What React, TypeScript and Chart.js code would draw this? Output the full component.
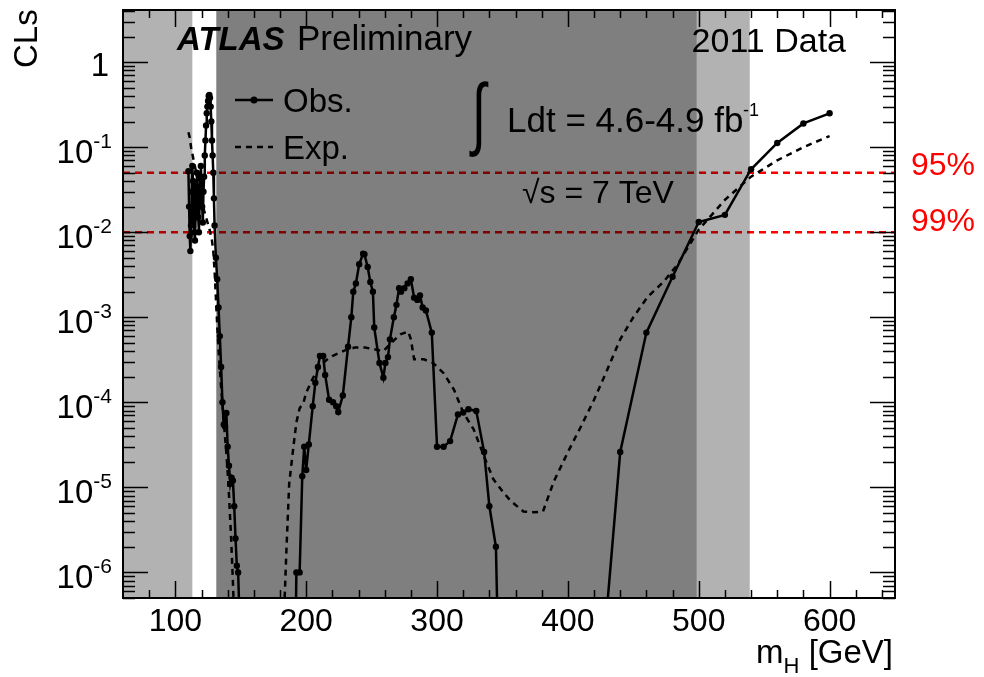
import React, { useEffect, useRef } from "react";
import { Chart, registerables } from "chart.js";

Chart.register(...registerables);

// ---- data ----
const obsMass = [
  110, 110.5, 111, 111.5, 112, 112.5, 113, 113.5, 114, 114.5, 115, 115.5, 116, 116.5, 117, 117.5,
  118, 118.5, 119, 119.5, 120, 120.5, 121, 121.5, 122, 122.5, 123, 123.5, 124, 124.5, 125, 125.5,
  126, 126.5, 127, 127.5, 128, 128.5, 129, 129.5, 130, 131, 132, 133, 134, 135, 136, 137, 138, 139,
  140, 141, 142, 143, 144, 145, 146, 147, 148, 149, 150, 190, 192.5, 195, 197, 198.5, 200, 202, 205,
  207, 209, 210.5, 213, 214.5, 217.5, 220.5, 223, 224.5, 228, 232, 234.5, 236, 238, 240.5, 243.5,
  244.5, 247, 249, 251, 252, 256, 259, 260.5, 262.5, 264, 267, 269, 271, 272.5, 275, 277.5, 280,
  282.5, 285, 287, 289, 291.5, 296, 300, 305, 310, 316, 320, 324, 330, 336, 340, 345, 350, 420, 440,
  460, 480, 500, 520, 540, 560, 580, 600,
];
const obsCLs = [
  0.052, 0.02, 0.009, 0.006, 0.012, 0.03, 0.06, 0.04, 0.02, 0.01, 0.008, 0.015, 0.035, 0.05, 0.03, 0.015,
  0.01, 0.02, 0.045, 0.06, 0.04, 0.02, 0.013, 0.03, 0.045, 0.08, 0.12, 0.18, 0.25, 0.3, 0.35, 0.4,
  0.41, 0.38, 0.3, 0.2, 0.12, 0.08, 0.05, 0.025, 0.012, 0.005, 0.0028, 0.0013, 6e-4, 2.6e-4, 1e-4, 5.5e-5, 5.2e-5, 7.5e-5,
  3e-5, 1.8e-5, 1.1e-5, 1.3e-5, 1.2e-5, 6e-6, 2.5e-6, 1.2e-6, 1e-6, 3e-7, 1e-8, 1e-9, 1e-6, 1e-6, 1.35e-5, 3e-5, 1.6e-5, 3.2e-5, 9e-5,
  1.7e-4, 2.6e-4, 3.5e-4, 3.5e-4, 2.1e-4, 1.07e-4, 1e-4, 9e-5, 7.7e-5, 1.2e-4, 4.5e-4, 1e-3, 2e-3, 2.5e-3, 4.2e-3, 5.6e-3,
  5.5e-3, 3.9e-3, 2.6e-3, 2e-3, 7.6e-4, 2.9e-4, 1.95e-4, 2.9e-4, 3.4e-4, 5.5e-4, 1e-3, 1.4e-3, 2.2e-3, 2e-3, 2.2e-3, 2.5e-3, 2.8e-3,
  1.7e-3, 1.6e-3, 1.8e-3, 1.3e-3, 1.2e-3, 6.6e-4, 3e-5, 3e-5, 3.5e-5, 7.2e-5, 7.6e-5, 8.3e-5, 7.9e-5, 2.6e-5, 6e-6, 2e-6, 5e-10, 6e-9, 2.6e-5,
  6.6e-4, 3e-3, 0.0132, 0.016, 0.055, 0.112, 0.19, 0.25,
];

const expMass = [
  110, 111, 112, 114, 116, 118, 120, 122, 124, 126, 128, 129, 130, 131, 132, 133, 135, 137, 139, 140.5,
  142.5, 144, 146, 150, 180, 183, 185, 187, 190, 192.5, 195, 198, 200, 205, 210, 215, 220, 225, 230, 237,
  245, 252, 259, 265, 272, 278, 280, 282.5, 290, 297, 305, 313, 320, 328, 336, 343, 350, 356, 366, 374,
  381, 389, 400, 410, 420, 430, 440, 450, 461, 473, 484, 490, 500, 520, 540, 560, 580, 600,
];
const expCLs = [
  0.15, 0.13, 0.1, 0.07, 0.05, 0.035, 0.025, 0.018, 0.014, 0.011, 0.008, 0.006, 0.0035, 0.0017, 8e-4, 4.2e-4, 1.5e-4, 6e-5, 2.5e-5, 1.15e-5,
  2.8e-6, 7.8e-7, 1e-7, 1e-9, 1e-9, 3e-7, 2e-6, 1.1e-5, 2.8e-5, 5.8e-5, 8.5e-5, 1e-4, 1.3e-4, 1.9e-4, 2.6e-4, 3.1e-4, 3.5e-4, 3.8e-4, 4.1e-4, 4.4e-4,
  4.4e-4, 4.2e-4, 4e-4, 5e-4, 6.3e-4, 6.8e-4, 5.5e-4, 3.2e-4, 3.2e-4, 2.9e-4, 2.2e-4, 1.4e-4, 7.6e-5, 4.8e-5, 2.3e-5, 1.25e-5, 9e-6, 7e-6, 5.2e-6, 5.1e-6,
  5.2e-6, 1.15e-5, 2.6e-5, 5.2e-5, 1.07e-4, 2.4e-4, 5.5e-4, 1e-3, 1.74e-3, 2.6e-3, 4.2e-3, 6e-3, 0.0107, 0.024, 0.045, 0.07, 0.1, 0.135,
];

// excluded mass ranges (GeV): [start, end]
const lightBandStart = [60, 498.5];
const lightBandEnd = [113, 539];
const darkBandStart = [131.3];
const darkBandEnd = [498.5];

const limitLevels = [0.05, 0.01];
const limitLabels = ["95%", "99%"];

const xTickLabels = [100, 200, 300, 400, 500, 600];
const yTickExponents = [0, -1, -2, -3, -4, -5, -6];

const X_MIN = 60;
const X_MAX = 650;
const Y_MIN = 5e-7;
const Y_MAX = 4.1;

const FONT = "'Liberation Sans', Arial, Helvetica, sans-serif";

const overlayPlugin = {
  id: "atlasOverlay",
  beforeDatasetsDraw(chart: any) {
    const { ctx, chartArea: a, scales } = chart;
    const x = scales.x;
    const y = scales.y;
    ctx.save();
    ctx.fillStyle = "#ffffff";
    ctx.fillRect(a.left, a.top, a.right - a.left, a.bottom - a.top);
    // limit lines
    ctx.strokeStyle = "#ff0000";
    ctx.lineWidth = 2.5;
    ctx.setLineDash([7, 5]);
    limitLevels.forEach((v) => {
      const py = y.getPixelForValue(v);
      ctx.beginPath();
      ctx.moveTo(a.left, py);
      ctx.lineTo(a.right, py);
      ctx.stroke();
    });
    ctx.setLineDash([]);
    // bands (translucent)
    const drawBand = (s: number, e: number, alpha: number) => {
      const x0 = Math.max(a.left, x.getPixelForValue(s));
      const x1 = Math.min(a.right, x.getPixelForValue(e));
      ctx.fillStyle = `rgba(0,0,0,${alpha})`;
      ctx.fillRect(x0, a.top, x1 - x0, a.bottom - a.top);
    };
    lightBandStart.forEach((s, i) => drawBand(s, lightBandEnd[i], 0.3));
    darkBandStart.forEach((s, i) => drawBand(s, darkBandEnd[i], 0.5));
    ctx.restore();
  },
  afterDatasetsDraw(chart: any) {
    const { ctx, chartArea: a, scales } = chart;
    const x = scales.x;
    const y = scales.y;
    ctx.save();
    ctx.strokeStyle = "#000";
    ctx.fillStyle = "#000";
    // ticks x
    ctx.lineWidth = 1.5;
    for (let m = 80; m < X_MAX; m += 20) {
      const px = Math.round(x.getPixelForValue(m)) + 0.5;
      const len = m % 100 === 0 ? 17 : 8;
      ctx.beginPath();
      ctx.moveTo(px, a.bottom);
      ctx.lineTo(px, a.bottom - len);
      ctx.moveTo(px, a.top);
      ctx.lineTo(px, a.top + len);
      ctx.stroke();
    }
    // ticks y
    for (let e = -7; e <= 0; e++) {
      for (let k = 1; k <= 9; k++) {
        const v = k * Math.pow(10, e);
        if (v < Y_MIN || v > Y_MAX) continue;
        const py = Math.round(y.getPixelForValue(v)) + 0.5;
        const len = k === 1 ? 25 : 12;
        ctx.beginPath();
        ctx.moveTo(a.left, py);
        ctx.lineTo(a.left + len, py);
        ctx.moveTo(a.right, py);
        ctx.lineTo(a.right - len, py);
        ctx.stroke();
      }
    }
    // frame
    ctx.lineWidth = 2;
    ctx.strokeRect(a.left, a.top, a.right - a.left, a.bottom - a.top);

    // x tick labels
    ctx.font = `32px ${FONT}`;
    ctx.textAlign = "center";
    ctx.textBaseline = "alphabetic";
    xTickLabels.forEach((m) => {
      ctx.fillText(String(m), x.getPixelForValue(m), 631);
    });
    // y tick labels
    const right = 112;
    yTickExponents.forEach((e) => {
      const py = y.getPixelForValue(Math.pow(10, e));
      if (e === 0) {
        ctx.font = `33px ${FONT}`;
        ctx.textAlign = "right";
        ctx.fillText("1", right - 3, py + 14);
        return;
      }
      ctx.font = `21px ${FONT}`;
      const expText = String(e);
      const ew = ctx.measureText(expText).width;
      ctx.textAlign = "left";
      ctx.fillText(expText, right - ew, py + 1);
      ctx.font = `33px ${FONT}`;
      ctx.textAlign = "right";
      ctx.fillText("10", right - ew, py + 16);
    });

    // y title
    ctx.save();
    ctx.translate(37, 68);
    ctx.rotate(-Math.PI / 2);
    ctx.font = `33px ${FONT}`;
    ctx.textAlign = "left";
    ctx.fillText("CLs", 0, 0);
    ctx.restore();

    // x title: m_H [GeV]
    ctx.textAlign = "left";
    ctx.font = `33px ${FONT}`;
    const gev = " [GeV]";
    const wGev = ctx.measureText(gev).width;
    const wM = ctx.measureText("m").width;
    ctx.font = `22px ${FONT}`;
    const wH = ctx.measureText("H").width;
    const xs = 893 - wGev - wH - wM;
    ctx.font = `33px ${FONT}`;
    ctx.fillText("m", xs, 663);
    ctx.font = `22px ${FONT}`;
    ctx.fillText("H", xs + wM, 673);
    ctx.font = `33px ${FONT}`;
    ctx.fillText(gev, xs + wM + wH, 663);

    // ATLAS Preliminary
    ctx.font = `italic bold 33px ${FONT}`;
    ctx.fillText("ATLAS", 177, 50);
    ctx.font = `35px ${FONT}`;
    ctx.fillText("Preliminary", 297, 50);
    ctx.textAlign = "right";
    ctx.font = `34px ${FONT}`;
    ctx.fillText("2011 Data", 846, 52);

    // luminosity
    ctx.textAlign = "left";
    ctx.save();
    ctx.translate(472, 140);
    ctx.scale(0.8, 1.25);
    ctx.font = `64px ${FONT}`;
    ctx.fillText("\u222B", 0, 0);
    ctx.restore();
    ctx.font = `35px ${FONT}`;
    ctx.fillText("Ldt = 4.6-4.9 fb", 507, 132);
    ctx.font = `18px ${FONT}`;
    ctx.fillText("-1", 743, 116);
    ctx.font = `32px ${FONT}`;
    ctx.fillText("\u221As = 7 TeV", 522, 203);

    // legend
    ctx.lineWidth = 2.5;
    ctx.beginPath();
    ctx.moveTo(235, 100);
    ctx.lineTo(273, 100);
    ctx.stroke();
    ctx.beginPath();
    ctx.arc(254, 100, 3.5, 0, Math.PI * 2);
    ctx.fill();
    ctx.setLineDash([6, 5]);
    ctx.beginPath();
    ctx.moveTo(235, 147);
    ctx.lineTo(273, 147);
    ctx.stroke();
    ctx.setLineDash([]);
    ctx.font = `33px ${FONT}`;
    ctx.fillText("Obs.", 283, 112);
    ctx.fillText("Exp.", 283, 159);

    // limit labels
    ctx.fillStyle = "#ff0000";
    ctx.font = `32px ${FONT}`;
    limitLevels.forEach((v, i) => {
      const py = y.getPixelForValue(v);
      ctx.fillText(limitLabels[i], 911, py + (i === 0 ? 2 : -1));
    });
    ctx.restore();
  },
};

export default function App() {
  const canvasRef = useRef<HTMLCanvasElement | null>(null);

  useEffect(() => {
    const canvas = canvasRef.current;
    if (!canvas) return;
    const chart = new Chart(canvas, {
      type: "line",
      data: {
        datasets: [
          {
            label: "Obs.",
            data: obsMass.map((m, i) => ({ x: m, y: obsCLs[i] })),
            borderColor: "#000",
            backgroundColor: "#000",
            borderWidth: 2.5,
            pointRadius: 3.2,
            pointBorderWidth: 0,
            pointBackgroundColor: "#000",
            tension: 0,
          },
          {
            label: "Exp.",
            data: expMass.map((m, i) => ({ x: m, y: expCLs[i] })),
            borderColor: "#000",
            borderWidth: 2.5,
            borderDash: [6, 5],
            pointRadius: 0,
            tension: 0,
          },
        ],
      },
      options: {
        responsive: false,
        devicePixelRatio: 1,
        animation: false,
        events: [],
        layout: { padding: { top: 10, right: 89, left: 0, bottom: 0 } },
        plugins: { legend: { display: false }, tooltip: { enabled: false } },
        scales: {
          x: {
            type: "linear",
            min: X_MIN,
            max: X_MAX,
            ticks: { display: false },
            grid: { display: false, drawTicks: false },
            border: { display: false },
            afterFit: (s: any) => {
              s.height = 79;
            },
          },
          y: {
            type: "logarithmic",
            min: Y_MIN,
            max: Y_MAX,
            ticks: { display: false },
            grid: { display: false, drawTicks: false },
            border: { display: false },
            afterFit: (s: any) => {
              s.width = 123;
            },
          },
        },
      },
      plugins: [overlayPlugin],
    });
    return () => chart.destroy();
  }, []);

  return (
    <div style={{ position: "absolute", left: 0, top: 0, width: 984, height: 677, background: "#fff" }}>
      <canvas ref={canvasRef} width={984} height={677} style={{ display: "block" }} />
    </div>
  );
}
